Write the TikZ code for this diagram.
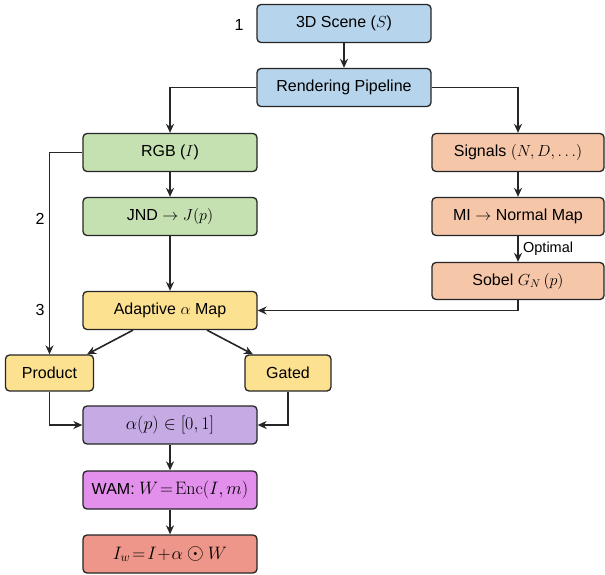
\RequirePackage{fix-cm}
\documentclass[tikz,border=0pt]{standalone}
\usepackage[no-math]{fontspec}
\setmainfont{Liberation Sans}
\usetikzlibrary{arrows.meta}
\definecolor{cblue}{HTML}{B6D4EC}
\definecolor{cgreen}{HTML}{C5E1B2}
\definecolor{corange}{HTML}{F6C6A8}
\definecolor{cyellow}{HTML}{FCE190}
\definecolor{cpurple}{HTML}{C6AAE4}
\definecolor{cmagenta}{HTML}{E390EC}
\definecolor{cred}{HTML}{EE968A}
\definecolor{cline}{HTML}{262626}
\begin{document}
\begin{tikzpicture}[x=1pt,y=-1pt,
  box/.style={draw=cline, line width=1.3pt, rounded corners=4pt, minimum width=174pt, minimum height=38pt, inner sep=0pt, font=\fontsize{16}{19}\selectfont, anchor=center},
  mathbox/.style={box, font=\fontsize{18}{21}\selectfont},
  smallbox/.style={box, minimum height=36pt},
  numlab/.style={font=\fontsize{16}{19}\selectfont, anchor=center},
  arr/.style={draw=cline, line width=1.6pt, -{Stealth[length=9pt,width=8pt]}}
]
\useasboundingbox[fill=white] (0,0) rectangle (605,575);
% nodes
\node[box, fill=cblue] (scene) at (344,23.5) {3D Scene ($S$)};
\node[box, fill=cblue] (render) at (344,87.5) {Rendering Pipeline};
\node[box, fill=cgreen] (rgb) at (170,152.5) {RGB ($I$)};
\node[box, fill=cgreen] (jnd) at (170,216.5) {JND $\rightarrow J(p)$};
\node[box, fill=corange, minimum width=172pt] (sig) at (518,152.5) {Signals $(N,D,\ldots)$};
\node[box, fill=corange, minimum width=172pt] (mi) at (518,216.5) {MI $\rightarrow$ Normal Map};
\node[box, fill=corange, minimum width=172pt, minimum height=37pt] (sobel) at (518,281) {Sobel $G_N\,(p)$};
\node[box, fill=cyellow] (adapt) at (170,310.5) {Adaptive $\alpha$ Map};
\node[smallbox, fill=cyellow, minimum width=88pt] (prod) at (49.5,373) {Product};
\node[smallbox, fill=cyellow, minimum width=86pt] (gated) at (288,373) {Gated};
\node[mathbox, fill=cpurple] (alpha) at (170,425) {$\alpha(p)\in[0,1]$};
\node[box, fill=cmagenta] (wam) at (170,490) {WAM: {\fontsize{18}{21}\selectfont$W\!=\!\mathrm{Enc}(I,m)$}};
\node[mathbox, fill=cred] (iw) at (170,554) {$I_w\!=\!I\!+\!\alpha\mathbin{\hbox{\fontsize{22}{24}\selectfont$\odot$}} W$};
% labels
\node[numlab] (n1) at (239,25) {1};
\node[numlab] (n2) at (40,219) {2};
\node[numlab] (n3) at (40,310) {3};
% connectors
\draw[arr] (scene) -- (render);
\draw[arr] (render.west) -| (rgb.north);
\draw[arr] (render.east) -| (sig.north);
\draw[arr] (rgb) -- (jnd);
\draw[arr] (jnd) -- (adapt);
\draw[arr] (sig) -- (mi);
\draw[arr] (mi) -- node[right, font=\fontsize{14.5}{17}\selectfont, xshift=1pt] (opt) {Optimal} (sobel);
\draw[arr] (sobel.south) |- (adapt.east);
\draw[arr] (rgb.west) -| (prod.north);
\draw[arr] ([xshift=-37pt]adapt.south) -- ([xshift=37.5pt]prod.north);
\draw[arr] ([xshift=37pt]adapt.south) -- ([xshift=-35pt]gated.north);
\draw[arr] (prod.south) |- (alpha.west);
\draw[arr] (gated.south) |- (alpha.east);
\draw[arr] (alpha) -- (wam);
\draw[arr] (wam) -- (iw);
\end{tikzpicture}
\end{document}
